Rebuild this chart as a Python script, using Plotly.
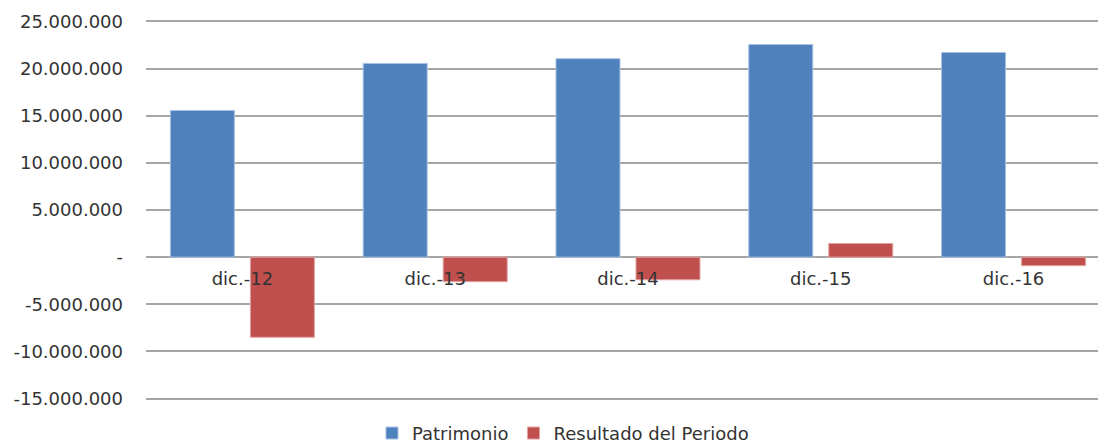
import plotly.graph_objects as go

# Year-end figures
categories = ["dic.-12", "dic.-13", "dic.-14", "dic.-15", "dic.-16"]
patrimonio = [15_550_000, 20_550_000, 21_050_000, 22_550_000, 21_700_000]
resultado = [-8_500_000, -2_600_000, -2_400_000, 1_450_000, -900_000]

y_ticks = [-15_000_000, -10_000_000, -5_000_000, 0, 5_000_000,
           10_000_000, 15_000_000, 20_000_000, 25_000_000]


def fmt_es(v):
    if v == 0:
        return "-"
    s = f"{abs(v):,}".replace(",", ".")
    return ("-" if v < 0 else "") + s


y_labels = [fmt_es(v) for v in y_ticks]

W, H = 1098, 448
Y_MIN, Y_MAX = -16_000_000, 26_000_000
FONT = "DejaVu Sans"
TEXT = "#333333"
GRID = "#a6a6a6"

fig = go.Figure()
fig.add_trace(go.Bar(
    name="Patrimonio", x=categories, y=patrimonio,
    marker=dict(color="#4f81bd", line=dict(color="#a9c2e2", width=1)),
))
fig.add_trace(go.Bar(
    name="Resultado del Periodo", x=categories, y=resultado,
    marker=dict(color="#c0504d", line=dict(color="#e3a3a1", width=1)),
))

fig.update_layout(
    width=W, height=H,
    margin=dict(l=146, r=0, t=12, b=40, autoexpand=False),
    paper_bgcolor="white", plot_bgcolor="white",
    barmode="group", bargap=0.17, bargroupgap=0.2,
    font=dict(family=FONT, size=18, color=TEXT),
    showlegend=True,
    legend=dict(
        orientation="h", x=0.438, xanchor="center", y=-0.064, yanchor="middle",
        font=dict(family=FONT, size=18, color=TEXT),
        itemwidth=30, bgcolor="rgba(0,0,0,0)",
    ),
    xaxis=dict(
        range=[-0.5, 4.438],
        anchor="free", position=(0 - Y_MIN) / (Y_MAX - Y_MIN),
        showline=False, showgrid=False, ticks="",
        ticklabelstandoff=9,
        tickfont=dict(family=FONT, size=18, color=TEXT),
    ),
    yaxis=dict(
        range=[Y_MIN, Y_MAX],
        tickvals=y_ticks, ticktext=y_labels,
        showgrid=True, gridcolor=GRID, gridwidth=1.5,
        zeroline=True, zerolinecolor=GRID, zerolinewidth=1.5,
        showline=False, ticks="",
        ticklabelstandoff=22,
        tickfont=dict(family=FONT, size=18, color=TEXT),
    ),
)

fig.write_html("out.html")
